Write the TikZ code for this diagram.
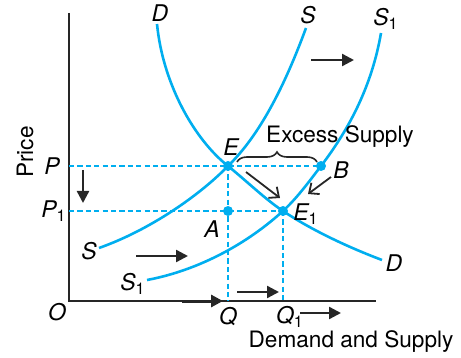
\documentclass[tikz,border=0pt]{standalone}
\usepackage{fontspec}
\setmainfont{TeX Gyre Heros}
\usetikzlibrary{arrows.meta,decorations.pathreplacing}
\definecolor{curvecol}{RGB}{0,174,239}
\begin{document}
\begin{tikzpicture}[x=0.5pt,y=-0.5pt,
  curve/.style={draw=curvecol,line width=1.3pt},
  guide/.style={draw=curvecol,line width=1pt,dash pattern=on 2.6pt off 1.6pt},
  axis/.style={draw=black!85,line width=1pt},
  shiftarrow/.style={draw=black!85,line width=1.2pt,-{Triangle[length=6pt,width=6pt]}},
  movearrow/.style={draw=black!85,line width=0.9pt,-{Straight Barb[length=4pt,width=7pt]}},
  dot/.style={circle,fill=curvecol,inner sep=0pt,minimum size=5pt},
  lab/.style={font=\fontsize{11.5pt}{12pt}\selectfont\itshape,inner sep=0pt},
  txt/.style={font=\fontsize{11.3pt}{12pt}\selectfont,inner sep=0pt}]
\useasboundingbox (0,0) rectangle (461,358);
% axes
\coordinate (O) at (69,301);
\coordinate (Ytop) at (69,13);
\coordinate (Xend) at (376,301);
\draw[axis] (Ytop) -- (O) -- (Xend);
% key points
\coordinate (E) at (228,166);
\coordinate (B) at (321,166);
\coordinate (A) at (228,211);
\coordinate (E1) at (283,211);
\coordinate (P) at (69,166);
\coordinate (P1) at (69,211);
\coordinate (Q) at (228,301);
\coordinate (Q1) at (283,301);
% guides
\draw[guide] (P) -- (B);
\draw[guide] (P1) -- (E1);
\draw[guide] (E) -- (Q);
\draw[guide] (E1) -- (Q1);
% curves
\coordinate (Dtop) at (157,24);
\coordinate (Dend) at (382,260);
\coordinate (Stop) at (306,28);
\coordinate (Send) at (99,248);
\coordinate (S1top) at (381,33);
\coordinate (S1end) at (147,280);
\draw[curve] (Dtop) .. controls (163,85) and (195,140) .. (E)
  .. controls (250,184) and (265,199) .. (E1)
  .. controls (310,229) and (345,246) .. (Dend);
\draw[curve] (Stop) .. controls (285,85) and (260,135) .. (E)
  .. controls (200,195) and (150,230) .. (Send);
\draw[curve] (S1top) .. controls (372,85) and (350,128) .. (B)
  .. controls (308,183) and (297,198) .. (E1)
  .. controls (240,250) and (190,272) .. (S1end);
% dots
\node[dot] (Edot) at (E) {};
\node[dot] (Bdot) at (B) {};
\node[dot] (Adot) at (A) {};
\node[dot] (E1dot) at (E1) {};
% curve labels
\node[lab] (Dt) at (160,13) {D};
\node[lab] (St) at (308,15) {S};
\node[lab] (S1t) at (386,19) {S\textsubscript{\upshape 1}};
\node[lab] (Sb) at (89,251) {S};
\node[lab] (S1b) at (133,284) {S\textsubscript{\upshape 1}};
\node[lab] (Db) at (394,263) {D};
% point labels
\node[lab] (El) at (231,147) {E};
\node[lab] (Bl) at (341,170) {B};
\node[lab] (Al) at (212,229) {A};
\node[lab] (E1l) at (306,214) {E\textsubscript{\upshape 1}};
\node[lab] (Pl) at (52,166) {P};
\node[lab] (P1l) at (54,211) {P\textsubscript{\upshape 1}};
\node[lab] (Ol) at (57,312) {O};
\node[lab] (Ql) at (228,317) {Q};
\node[lab] (Q1l) at (290,317) {Q\textsubscript{\upshape 1}};
% texts
\node[txt,rotate=90] (price) at (25,152) {Price};
\node[txt] (dsl) at (351,342) {Demand and Supply};
\node[txt] (excess) at (340,137) {Excess Supply};
% brace
\coordinate (br1) at (237,162);
\coordinate (br2) at (317,162);
\draw[black!85,line width=0.8pt,decorate,decoration={brace,amplitude=5pt}] (br1) -- (br2);
% shift arrows
\coordinate (a1s) at (311,60); \coordinate (a1e) at (354,60);
\draw[shiftarrow] (a1s) -- (a1e);
\coordinate (a2s) at (83,170); \coordinate (a2e) at (83,203);
\draw[shiftarrow] (a2s) -- (a2e);
\coordinate (a3s) at (136,256); \coordinate (a3e) at (188,256);
\draw[shiftarrow] (a3s) -- (a3e);
\coordinate (a4s) at (182,301); \coordinate (a4e) at (223,301);
\draw[shiftarrow,line width=1.5pt] (a4s) -- (a4e);
\coordinate (a5s) at (237,292); \coordinate (a5e) at (279,292);
\draw[shiftarrow] (a5s) -- (a5e);
\coordinate (a6s) at (300,313); \coordinate (a6e) at (341,313);
\draw[shiftarrow] (a6s) -- (a6e);
% movement arrows
\coordinate (m1s) at (246,172); \coordinate (m1e) at (280,198);
\draw[movearrow] (m1s) -- (m1e);
\coordinate (m2s) at (331,177); \coordinate (m2e) at (308,194);
\draw[movearrow] (m2s) -- (m2e);
\end{tikzpicture}
\end{document}
